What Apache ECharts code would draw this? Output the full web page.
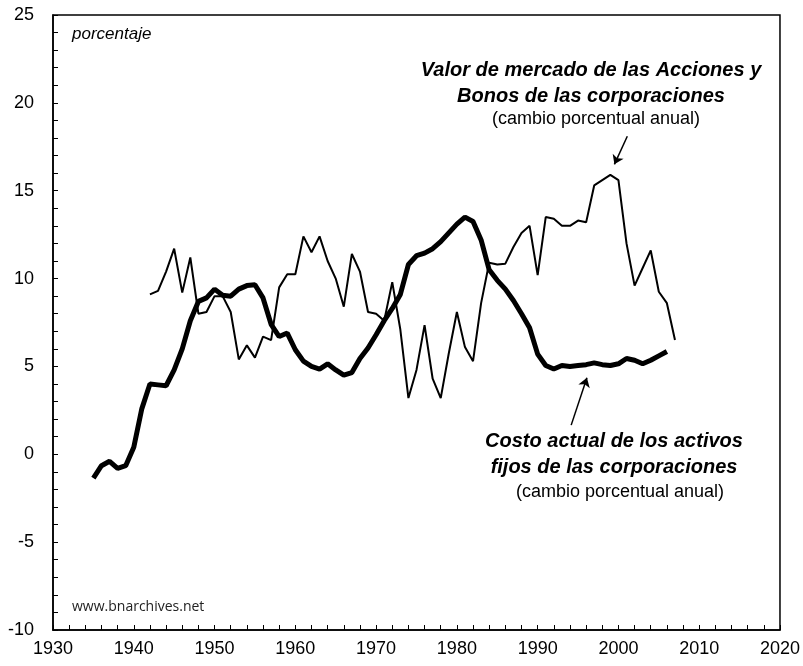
<!DOCTYPE html>
<html>
<head>
<meta charset="utf-8">
<script src="https://cdn.jsdelivr.net/npm/echarts@6/dist/echarts.min.js"></script>
<style>
html,body{margin:0;padding:0;background:#fff;}
#chart{width:803px;height:666px;}
</style>
</head>
<body>
<div id="chart"></div>
<script>
// costo actual de los activos fijos (linea gruesa), 1935-2006
var costoYears = [];
for (var y = 1935; y <= 2006; y++) costoYears.push(y);
var costoVals = [
  -1.35, -0.65, -0.4, -0.8, -0.65, 0.4, 2.6, 4.0, 3.95, 3.9,
  4.8, 6.0, 7.6, 8.7, 8.9, 9.4, 9.05, 9.0, 9.4, 9.6,
  9.65, 8.9, 7.4, 6.7, 6.9, 5.95, 5.3, 5.0, 4.85, 5.15,
  4.8, 4.5, 4.65, 5.45, 6.05, 6.8, 7.6, 8.3, 9.1, 10.8,
  11.3, 11.45, 11.7, 12.1, 12.6, 13.1, 13.5, 13.25, 12.2, 10.5,
  9.9, 9.4, 8.75, 8.0, 7.2, 5.7, 5.05, 4.85, 5.05, 5.0,
  5.05, 5.1, 5.2, 5.1, 5.05, 5.15, 5.45, 5.35, 5.15, 5.35,
  5.6, 5.85
];

// valor de mercado de acciones y bonos (linea fina), 1942-2007
var valorYears = [];
for (var y2 = 1942; y2 <= 2007; y2++) valorYears.push(y2);
var valorVals = [
  9.1, 9.3, 10.4, 11.7, 9.2, 11.2, 8.0, 8.1, 9.0, 9.0,
  8.1, 5.4, 6.2, 5.5, 6.7, 6.5, 9.5, 10.25, 10.25, 12.4,
  11.5, 12.4, 11.0, 10.0, 8.4, 11.4, 10.4, 8.1, 8.0, 7.6,
  9.8, 7.1, 3.2, 4.8, 7.35, 4.3, 3.2, 5.75, 8.1, 6.1,
  5.3, 8.6, 10.9, 10.8, 10.85, 11.8, 12.6, 13.0, 10.2, 13.5,
  13.4, 13.0, 13.0, 13.3, 13.2, 15.3, 15.6, 15.9, 15.6, 12.0,
  9.6, 10.6, 11.6, 9.25, 8.6, 6.5
];

function pairs(xs, vs) {
  var out = [];
  for (var i = 0; i < vs.length; i++) out.push([xs[i], vs[i]]);
  return out;
}

var font = '"Liberation Sans", Arial, sans-serif';

var chart = echarts.init(document.getElementById('chart'));
var option = {
  animation: false,
  backgroundColor: '#fff',
  grid: {
    left: 53, right: 22, top: 15, bottom: 36,
    show: true, borderColor: '#000', borderWidth: 1.5
  },
  xAxis: {
    type: 'value', min: 1930, max: 2020, interval: 10,
    axisLine: {onZero: false, lineStyle: {color: '#000', width: 1.5}},
    axisTick: {inside: true, length: 5, lineStyle: {color: '#000'}},
    minorTick: {show: true, splitNumber: 5, length: 5, lineStyle: {color: '#000'}},
    splitLine: {show: false},
    axisLabel: {color: '#000', fontSize: 18, fontFamily: font, margin: 10,
      formatter: function (v) { return String(v); }}
  },
  yAxis: {
    type: 'value', min: -10, max: 25, interval: 5,
    axisLine: {show: true, lineStyle: {color: '#000', width: 1.5}},
    axisTick: {show: true, inside: true, length: 5, lineStyle: {color: '#000'}},
    minorTick: {show: true, splitNumber: 5, length: 5, lineStyle: {color: '#000'}},
    splitLine: {show: false},
    axisLabel: {color: '#000', fontSize: 18, fontFamily: font, margin: 19}
  },
  series: [
    {
      name: 'Valor de mercado',
      type: 'line',
      data: pairs(valorYears, valorVals),
      symbol: 'none',
      lineStyle: {color: '#000', width: 2},
      markLine: {
        silent: true,
        symbol: ['none', 'arrow'],
        symbolSize: 9,
        label: {show: false},
        lineStyle: {color: '#000', width: 1.5, type: 'solid'},
        data: [
          [{coord: [2001.1, 18.1]}, {coord: [1999.5, 16.5]}],
          [{coord: [1994.15, 1.66]}, {coord: [1996.1, 4.35]}]
        ]
      }
    },
    {
      name: 'Costo actual',
      type: 'line',
      data: pairs(costoYears, costoVals),
      symbol: 'none',
      lineStyle: {color: '#000', width: 5}
    }
  ],
  graphic: [
    {type: 'text', left: 72, top: 26,
      style: {text: 'porcentaje', font: 'italic 17px ' + font, fill: '#000'}},
    {type: 'text', left: 72, top: 600,
      style: {text: 'www.bnarchives.net', font: '14px "Open Sans", sans-serif', fill: '#222'}},
    {type: 'text', x: 591, y: 57,
      style: {text: 'Valor de mercado de las Acciones y\nBonos de las corporaciones',
        font: 'italic bold 20px ' + font, fill: '#000', align: 'center', lineHeight: 26}},
    {type: 'text', x: 596, y: 110,
      style: {text: '(cambio porcentual anual)', font: '18px ' + font, fill: '#000', align: 'center'}},
    {type: 'text', x: 614, y: 428,
      style: {text: 'Costo actual de los activos\nfijos de las corporaciones',
        font: 'italic bold 20px ' + font, fill: '#000', align: 'center', lineHeight: 26}},
    {type: 'text', x: 620, y: 483,
      style: {text: '(cambio porcentual anual)', font: '18px ' + font, fill: '#000', align: 'center'}}
  ]
};
chart.setOption(option);
</script>
</body>
</html>
